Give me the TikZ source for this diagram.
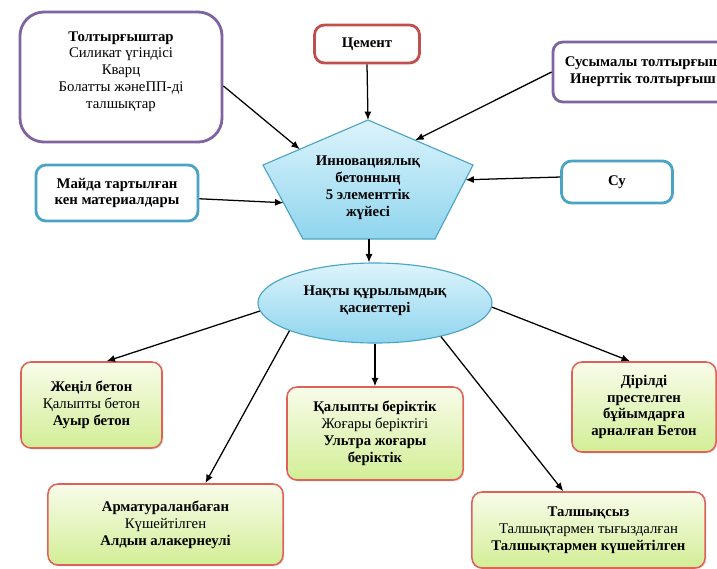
\documentclass[tikz,border=0pt]{standalone}
\usepackage{fontspec}
\setmainfont{Liberation Serif}
\usetikzlibrary{arrows.meta,calc,shadows,shapes.geometric}

\definecolor{purpleline}{HTML}{8064A2}
\definecolor{redline}{HTML}{C0504D}
\definecolor{tealline}{HTML}{4BA3C6}
\definecolor{pinkline}{HTML}{E0605A}
\definecolor{skytop}{HTML}{DDF4FC}
\definecolor{skybottom}{HTML}{8FD5EE}
\definecolor{limetop}{HTML}{F8FCEA}
\definecolor{limebottom}{HTML}{D2EE96}

\begin{document}
\begin{tikzpicture}[x=0.025cm, y=-0.025cm,
    every node/.style = {align=center, font=\fontsize{10.5}{12}\selectfont},
    inbox/.style = {shape=rectangle, draw, fill=white, line width=2pt,
      rounded corners=0.25cm},
    outbox/.style = {shape=rectangle, draw=pinkline, line width=1.1pt,
      rounded corners=0.25cm, top color=limetop, bottom color=limebottom,
      drop shadow={opacity=0.2, shadow xshift=1pt, shadow yshift=-1pt}},
    arr/.style = {-{Latex[length=6pt,width=5pt]}, line width=0.9pt}]
    \clip (0,0) rectangle (717,568);

    % inputs
    \node[inbox, draw=purpleline, rounded corners=0.6cm,
      minimum width=5.05cm, minimum height=3.25cm] (fill) at (121,77)
      {\textbf{Толтырғыштар}\\ Силикат үгіндісі\\ Кварц\\ Болатты жәнеПП-ді\\ талшықтар\\[-2pt]\mbox{}};
    \node[inbox, draw=redline, minimum width=2.625cm, minimum height=0.95cm]
      (cement) at (367,44) {\textbf{Цемент}};
    \node[inbox, draw=purpleline, minimum width=4.5cm, minimum height=1.5cm]
      (bulk) at (643,72) {\textbf{Сусымалы толтырғыш}\\ \textbf{Инерттік толтырғыш}};
    \node[inbox, draw=tealline, minimum width=4.05cm, minimum height=1.4cm]
      (fine) at (117,193) {\textbf{Майда тартылған}\\ \textbf{кен материалдары}};
    \node[inbox, draw=tealline, minimum width=2.775cm, minimum height=1.05cm]
      (water) at (617,182) {\textbf{Су}};

    % pentagon
    \coordinate (pt) at (368,120);
    \coordinate (pl) at (263,165);
    \coordinate (pr) at (473,165);
    \coordinate (pbl) at (303,239);
    \coordinate (pbr) at (435,239);
    \coordinate (pb) at ($(pbl)!0.5!(pbr)$);
    \path[draw=tealline, line width=0.8pt, top color=skytop, bottom color=skybottom]
      (pt) -- (pr) -- (pbr) -- (pbl) -- (pl) -- cycle;
    \node (sys) at (368,188)
      {\textbf{Инновациялық}\\ \textbf{бетонның}\\ \textbf{5 элементтік}\\ \textbf{жүйесі}};

    \node[ellipse, draw=tealline, line width=0.8pt, top color=skytop,
      bottom color=skybottom, minimum width=5.85cm, minimum height=2cm]
      (prop) at (375,303) {\textbf{Нақты құрылымдық}\\ \textbf{қасиеттері}\\[-6pt]\mbox{}};

    % outputs
    \node[outbox, minimum width=3.525cm, minimum height=2.15cm] (light) at (91.5,405)
      {\textbf{Жеңіл бетон}\\ Қалыпты бетон\\ \textbf{Ауыр бетон}};
    \node[outbox, minimum width=4.4cm, minimum height=2.325cm] (strength) at (375,433.5)
      {\textbf{Қалыпты беріктік}\\ Жоғары беріктігі\\ \textbf{Ультра жоғары}\\ \textbf{беріктік}};
    \node[outbox, minimum width=3.6cm, minimum height=2.25cm] (vibro) at (644,407)
      {\textbf{Дірілді}\\ \textbf{престелген}\\ \textbf{бұйымдарға}\\ \textbf{арналған Бетон}};
    \node[outbox, minimum width=5.875cm, minimum height=2.025cm] (reinf) at (165.5,524.5)
      {\textbf{Арматураланбаған}\\ Күшейтілген\\ \textbf{Алдын алакернеулі}};
    \node[outbox, minimum width=5.825cm, minimum height=1.9cm] (fibre) at (588.5,530)
      {\textbf{Талшықсыз}\\ Талшықтармен тығыздалған\\ \textbf{Талшықтармен күшейтілген}};

    % connectors
    \draw[arr] (fill.-5) -- ($(pl)!0.35!(pt)$);
    \draw[arr] (cement.south) -- (pt);
    \draw[arr] (bulk.west) -- ($(pt)!0.45!(pr)$);
    \draw[arr] (fine.-4) -- ($(pl)!0.51!(pbl)$);
    \draw[arr] (water.175) -- ($(pr)!0.2!(pbr)$);
    \draw[arr] (pb) -- (pb |- prop.north);
    \draw[arr] (prop.184) -- (light.71);
    \draw[arr] (prop.198) -- (reinf.46);
    \draw[arr] (prop.south) -- (strength.north);
    \draw[arr] (prop.-27) -- (fibre.123);
    \draw[arr] (prop.-2) -- (vibro.107);
\end{tikzpicture}
\end{document}
